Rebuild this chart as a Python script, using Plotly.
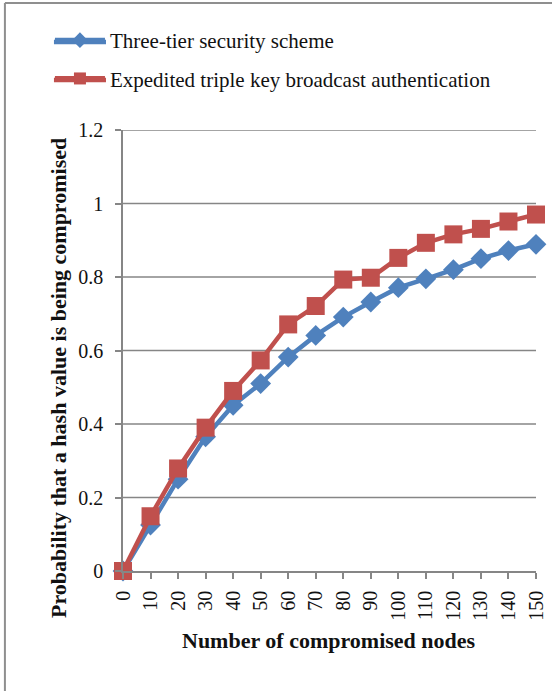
import plotly.graph_objects as go

nodes = [0, 10, 20, 30, 40, 50, 60, 70, 80, 90, 100, 110, 120, 130, 140, 150]
three_tier = [0, 0.125, 0.25, 0.365, 0.451, 0.51, 0.582, 0.641, 0.691, 0.732, 0.771, 0.795, 0.82, 0.85, 0.872, 0.889]
expedited = [0, 0.149, 0.279, 0.39, 0.49, 0.573, 0.671, 0.721, 0.793, 0.798, 0.852, 0.893, 0.916, 0.931, 0.951, 0.97]
series_names = ["Three-tier security scheme", "Expedited triple key broadcast authentication"]
series_colors = ["#4F81BD", "#C0504D"]
y_ticks = [0, 0.2, 0.4, 0.6, 0.8, 1.0, 1.2]
y_tick_text = ["0", "0.2", "0.4", "0.6", "0.8", "1", "1.2"]

W, H = 552, 691
L, R, T, B = 123, 16.3, 130, 120
pw, ph = W - L - R, H - T - B

def px(x):
    return (x - L) / pw

def py(y):
    return (H - B - y) / ph

FONT = "Liberation Serif, Times New Roman, serif"
GRID = "#868686"

fig = go.Figure()
fig.add_trace(go.Scatter(
    x=nodes, y=three_tier, name=series_names[0], mode="lines+markers",
    line=dict(color=series_colors[0], width=4.5),
    marker=dict(symbol="diamond", size=16, color=series_colors[0]),
    cliponaxis=False, legendgroup="a",
))
fig.add_trace(go.Scatter(
    x=nodes, y=expedited, name=series_names[1], mode="lines+markers",
    line=dict(color=series_colors[1], width=4.5),
    marker=dict(symbol="square", size=18, color=series_colors[1]),
    cliponaxis=False, legendgroup="b",
))

legend_rows = [42, 80]
shapes = [
    dict(type="line", xref="paper", yref="paper", x0=px(5), x1=px(560), y0=py(3), y1=py(3),
         line=dict(color="#8f8f8f", width=2)),
    dict(type="line", xref="paper", yref="paper", x0=px(5), x1=px(5), y0=py(3), y1=py(700),
         line=dict(color="#8f8f8f", width=2)),
]
# horizontal gridlines spanning exactly the category range
for t in y_ticks[1:]:
    shapes.append(dict(type="line", xref="x", yref="y", x0=nodes[0], x1=nodes[-1], y0=t, y1=t,
                       layer="below", line=dict(color=GRID, width=1.5)))
# legend swatch lines extended to the reference's longer sample
for c, yr in zip(series_colors, legend_rows):
    shapes.append(dict(type="line", xref="paper", yref="paper", x0=px(54), x1=px(106),
                       y0=py(yr), y1=py(yr), line=dict(color=c, width=4.5)))

fig.update_layout(
    width=W, height=H,
    margin=dict(l=L, r=R, t=T, b=B, autoexpand=False),
    paper_bgcolor="white", plot_bgcolor="white",
    font=dict(family=FONT, size=21, color="#111111"),
    showlegend=True,
    legend=dict(
        x=px(50), y=py(20), xanchor="left", yanchor="top",
        font=dict(size=21), traceorder="grouped", tracegroupgap=8,
        itemwidth=50, itemsizing="constant",
        bgcolor="rgba(0,0,0,0)",
    ),
    xaxis=dict(
        range=[0, 150], tickvals=nodes, ticktext=[str(n) for n in nodes],
        tickangle=-90, showgrid=False, zeroline=False,
        showline=True, linecolor=GRID, linewidth=1.5,
        ticks="outside", ticklen=6, tickcolor=GRID, tickwidth=1.5,
        tickfont=dict(size=20), ticklabelstandoff=4,
    ),
    yaxis=dict(
        range=[0, 1.2], tickvals=y_ticks, ticktext=y_tick_text,
        showgrid=False, zeroline=False,
        showline=True, linecolor=GRID, linewidth=1.5,
        ticks="outside", ticklen=6, tickcolor=GRID, tickwidth=1.5,
        tickfont=dict(size=20), ticklabelstandoff=8,
    ),
    annotations=[
        dict(text="<b>Number of compromised nodes</b>", xref="paper", yref="paper",
             x=px(329), y=py(640), xanchor="center", yanchor="middle",
             showarrow=False, font=dict(size=22)),
        dict(text="<b>Probability that a hash value is being compromised</b>",
             xref="paper", yref="paper", textangle=-90,
             x=px(58), y=py(378), xanchor="center", yanchor="middle",
             showarrow=False, font=dict(size=22)),
    ],
    shapes=shapes,
)

fig.write_html("out.html", config={"displayModeBar": False},
               post_script="document.body.style.margin='0';document.body.style.overflow='hidden';")
